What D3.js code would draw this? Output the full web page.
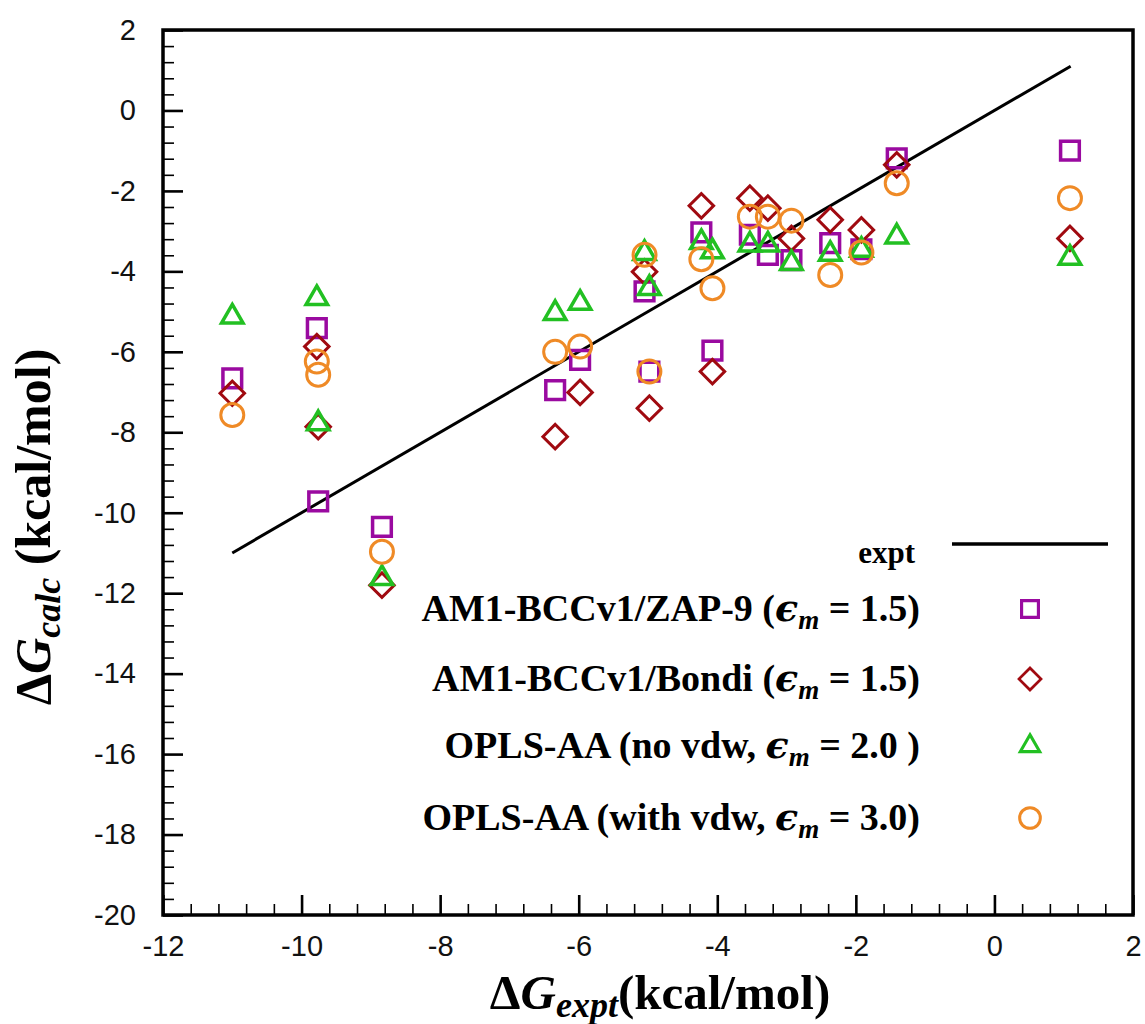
<!DOCTYPE html>
<html>
<head>
<meta charset="utf-8">
<script src="https://cdn.jsdelivr.net/npm/d3@7"></script>
<style>
  body { margin: 0; background: #fff; }
</style>
</head>
<body>
<div class="container"></div>
<script>
// experimental dG (x) for each compound
var expt = [-11.0, -9.78, -9.76, -8.84, -6.34, -5.98, -5.05, -4.98, -4.23, -4.07, -3.53, -3.27, -2.93, -2.37, -1.92, -1.41, 1.09];
// calculated dG, one value per compound
var zap9 = [-6.66, -5.41, -9.72, -10.35, -6.95, -6.20, -4.50, -6.49, -3.03, -5.97, -3.09, -3.59, -3.72, -3.30, -3.45, -1.19, -1.00];
var bondi = [-7.03, -5.87, -7.86, -11.80, -8.11, -7.01, -4.01, -7.40, -2.37, -6.49, -2.18, -2.43, -3.18, -2.72, -2.97, -1.35, -3.18];
var oplsNoVdw = [-5.13, -4.67, -7.78, -11.63, -5.04, -4.79, -3.55, -4.42, -3.28, -3.51, -3.34, -3.34, -3.80, -3.57, -3.47, -3.14, -3.67];
var oplsVdw = [-7.57, -6.24, -6.57, -10.97, -6.00, -5.87, -3.59, -6.49, -3.70, -4.42, -2.64, -2.64, -2.74, -4.09, -3.53, -1.81, -2.18];
// y = x reference line
var exptLine = [-11, 1.1];

var xTicks = [-12, -10, -8, -6, -4, -2, 0, 2];
var yTicks = [2, 0, -2, -4, -6, -8, -10, -12, -14, -16, -18, -20];

buildChart();

function buildChart() {
  var w = 1145, h = 1024;
  var pLeft = 163, pRight = 1133, pTop = 30, pBottom = 915;

  var svg = d3.select('.container')
    .append('svg')
    .attr('width', w)
    .attr('height', h);

  var xScale = d3.scaleLinear().domain([-12, 2]).range([pLeft, pRight]);
  var yScale = d3.scaleLinear().domain([-20, 2]).range([pBottom, pTop]);

  /* minor ticks, every 0.4 */
  var xMinor = d3.range(-12, 2.001, 0.4).filter(function(v) { return Math.abs(v / 2 - Math.round(v / 2)) > 0.01; });
  var yMinor = d3.range(-20, 2.001, 0.4).filter(function(v) { return Math.abs(v / 2 - Math.round(v / 2)) > 0.01; });

  function styleAxis(g, sw) {
    g.select('.domain').remove();
    g.selectAll('.tick line').attr('stroke', '#000').attr('stroke-width', sw);
    g.selectAll('text')
      .attr('font-family', '"Liberation Sans", Arial, sans-serif')
      .attr('font-size', 29)
      .attr('fill', '#111');
  }

  svg.append('g')
    .attr('transform', 'translate(0,' + pBottom + ')')
    .call(d3.axisBottom(xScale).tickValues(xMinor).tickSize(-11).tickFormat(''))
    .call(styleAxis, 1.6);
  svg.append('g')
    .attr('transform', 'translate(' + pLeft + ',0)')
    .call(d3.axisLeft(yScale).tickValues(yMinor).tickSize(-11).tickFormat(''))
    .call(styleAxis, 1.6);

  svg.append('g')
    .attr('transform', 'translate(0,' + pBottom + ')')
    .call(d3.axisBottom(xScale).tickValues(xTicks).tickSize(-20).tickPadding(20)
      .tickFormat(function(d) { return String(d); }))
    .call(styleAxis, 2.6);
  svg.append('g')
    .attr('transform', 'translate(' + pLeft + ',0)')
    .call(d3.axisLeft(yScale).tickValues(yTicks).tickSize(-20).tickPadding(27)
      .tickFormat(function(d) { return String(d); }))
    .call(styleAxis, 2.6);

  /* frame */
  svg.append('rect')
    .attr('x', pLeft).attr('y', pTop)
    .attr('width', pRight - pLeft).attr('height', pBottom - pTop)
    .attr('fill', 'none')
    .attr('stroke', '#000')
    .attr('stroke-width', 3.5);

  /* y = x line */
  svg.append('line')
    .attr('x1', xScale(exptLine[0])).attr('y1', yScale(exptLine[0]))
    .attr('x2', xScale(exptLine[1])).attr('y2', yScale(exptLine[1]))
    .attr('stroke', '#000')
    .attr('stroke-width', 3);

  /* markers */
  var squarePath = d3.symbol(d3.symbolSquare, 350)();
  var diamondPath = d3.symbol(d3.symbolSquare, 300)();
  var trianglePath = d3.symbol(d3.symbolTriangle, 200)();

  var series = [
    { vals: zap9, color: '#9a0aa0', kind: 'square', label: 'AM1-BCCv1/ZAP-9 (', eps: '= 1.5)' },
    { vals: bondi, color: '#a00a10', kind: 'diamond', label: 'AM1-BCCv1/Bondi (', eps: '= 1.5)' },
    { vals: oplsNoVdw, color: '#22c022', kind: 'triangle', label: 'OPLS-AA (no vdw, ', eps: '= 2.0 )' },
    { vals: oplsVdw, color: '#ef8a26', kind: 'circle', label: 'OPLS-AA (with vdw, ', eps: '= 3.0)' }
  ];

  function drawMarker(sel, s, scale) {
    var m;
    if (s.kind === 'circle') {
      m = sel.append('circle').attr('r', 11.5 * scale).attr('stroke-width', 3);
    } else if (s.kind === 'square') {
      m = sel.append('path').attr('d', squarePath).attr('stroke-width', 3.5)
        .attr('transform', 'scale(' + scale + ')');
    } else if (s.kind === 'diamond') {
      m = sel.append('path').attr('d', diamondPath).attr('stroke-width', 3)
        .attr('transform', 'scale(' + scale + ') rotate(45)');
    } else {
      m = sel.append('path').attr('d', trianglePath).attr('stroke-width', 3.5)
        .attr('transform', 'scale(' + scale + ')');
    }
    m.attr('fill', 'none').attr('stroke', s.color);
  }

  series.forEach(function(s) {
    svg.append('g')
      .selectAll('g')
      .data(s.vals)
      .enter()
      .append('g')
      .attr('transform', function(d, i) {
        return 'translate(' + xScale(expt[i]) + ',' + yScale(d) + ')';
      })
      .each(function() { drawMarker(d3.select(this), s, 1); });
  });

  /* legend */
  var serif = '"Liberation Serif", "Times New Roman", serif';
  var legend = svg.append('g');
  legend.append('text')
    .attr('x', 915).attr('y', 563)
    .attr('text-anchor', 'end')
    .attr('font-family', serif).attr('font-weight', 'bold').attr('font-size', 31)
    .text('expt');
  legend.append('line')
    .attr('x1', 952).attr('x2', 1108).attr('y1', 544).attr('y2', 544)
    .attr('stroke', '#000').attr('stroke-width', 3.5);

  var rowY = [609, 679, 746, 818];
  series.forEach(function(s, i) {
    var t = legend.append('text')
      .attr('x', 920).attr('y', rowY[i] + 12)
      .attr('text-anchor', 'end')
      .attr('font-family', serif).attr('font-weight', 'bold').attr('font-size', 38);
    t.append('tspan').text(s.label);
    t.append('tspan').attr('font-style', 'italic').attr('font-family', '"DejaVu Serif", serif').text('\u03f5');
    t.append('tspan').attr('font-style', 'italic').attr('font-size', 27).attr('dy', 8).text('m');
    t.append('tspan').attr('dy', -8).text(' ' + s.eps);
    legend.append('g')
      .attr('transform', 'translate(1030,' + rowY[i] + ')')
      .call(drawMarker, s, 0.9);
  });

  /* axis titles */
  var xt = svg.append('text')
    .attr('x', 660).attr('y', 1009)
    .attr('text-anchor', 'middle')
    .attr('font-family', serif).attr('font-weight', 'bold').attr('font-size', 49);
  xt.append('tspan').text('\u0394');
  xt.append('tspan').attr('font-style', 'italic').text('G');
  xt.append('tspan').attr('font-style', 'italic').attr('font-size', 36).attr('dy', 8).text('expt');
  xt.append('tspan').attr('dy', -8).text('(kcal/mol)');

  var yt = svg.append('text')
    .attr('transform', 'translate(50,527) rotate(-90)')
    .attr('text-anchor', 'middle')
    .attr('font-family', serif).attr('font-weight', 'bold').attr('font-size', 50);
  yt.append('tspan').text('\u0394');
  yt.append('tspan').attr('font-style', 'italic').text('G');
  yt.append('tspan').attr('font-style', 'italic').attr('font-size', 36).attr('dy', 10).text('calc');
  yt.append('tspan').attr('dy', -10).text(' (kcal/mol)');
}
</script>
</body>
</html>
